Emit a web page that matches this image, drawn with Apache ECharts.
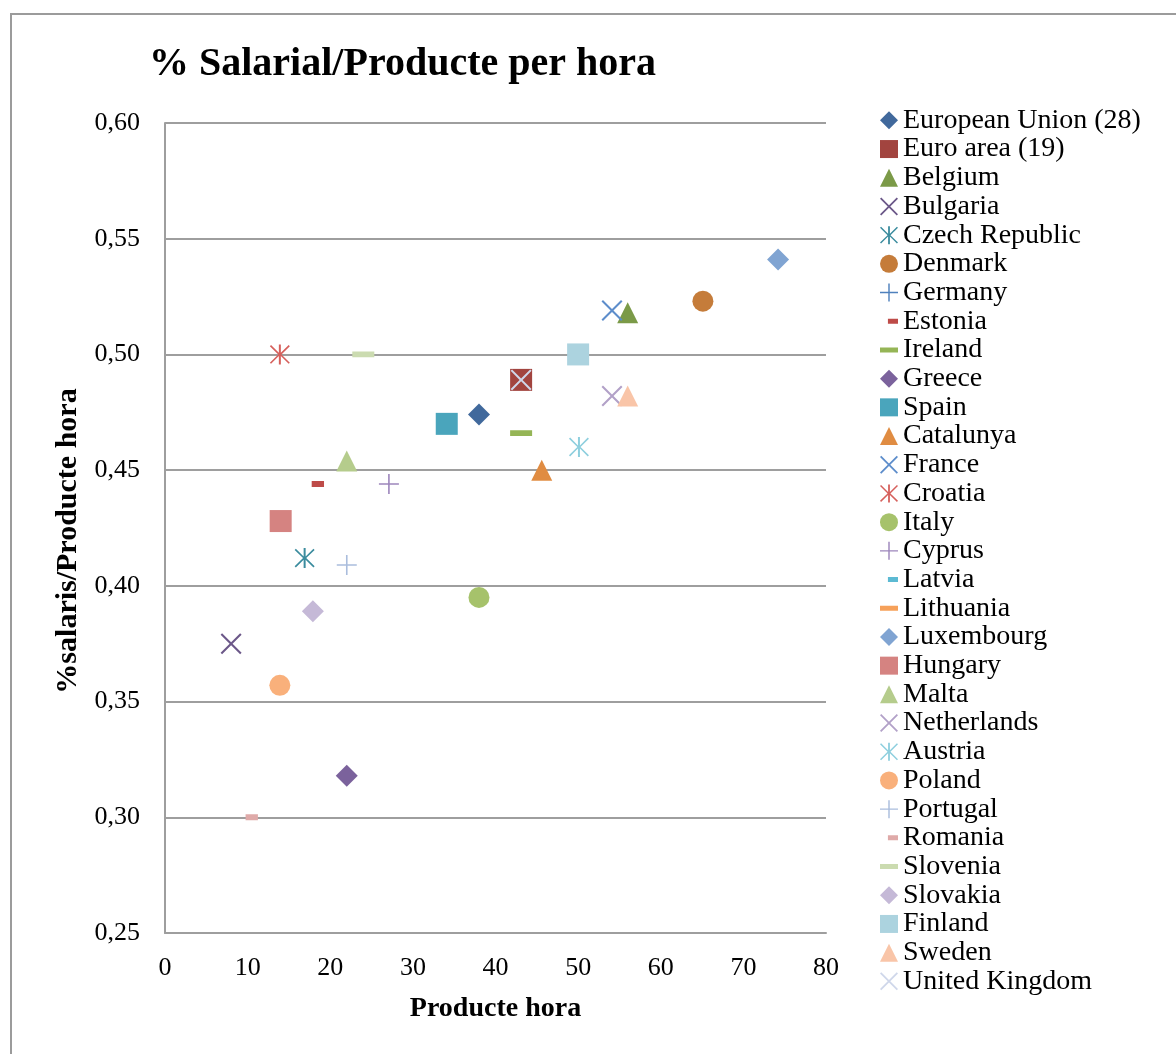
<!DOCTYPE html>
<html>
<head>
<meta charset="utf-8">
<title>% Salarial/Producte per hora</title>
<script src="https://cdn.jsdelivr.net/npm/echarts@6/dist/echarts.min.js"></script>
<style>
  html, body { margin: 0; padding: 0; background: #ffffff; }
  #chart { width: 1176px; height: 1054px; }
</style>
</head>
<body>
<div id="chart"></div>
<script>
// Countries, hourly productivity (x) and wage share per hour of product (y).
// Germany, Latvia and Lithuania have no plotted value.
const countries = [
  'European Union (28)', 'Euro area (19)', 'Belgium', 'Bulgaria', 'Czech Republic',
  'Denmark', 'Germany', 'Estonia', 'Ireland', 'Greece', 'Spain', 'Catalunya',
  'France', 'Croatia', 'Italy', 'Cyprus', 'Latvia', 'Lithuania', 'Luxembourg',
  'Hungary', 'Malta', 'Netherlands', 'Austria', 'Poland', 'Portugal', 'Romania',
  'Slovenia', 'Slovakia', 'Finland', 'Sweden', 'United Kingdom'
];
const productivity = [
  38.0, 43.1, 56.0, 8.0, 16.9,
  65.1, null, 18.5, 43.1, 22.0, 34.1, 45.6,
  54.1, 13.9, 38.0, 27.1, null, null, 74.2,
  14.0, 22.0, 54.1, 50.1, 13.9, 22.0, 10.5,
  24.0, 17.9, 50.0, 56.0, 43.1
];
const wageShare = [
  0.474, 0.489, 0.518, 0.375, 0.412,
  0.523, null, 0.444, 0.466, 0.318, 0.470, 0.450,
  0.519, 0.500, 0.395, 0.444, null, null, 0.541,
  0.428, 0.454, 0.482, 0.460, 0.357, 0.409, 0.300,
  0.500, 0.389, 0.500, 0.482, 0.489
];
const xTicks = { min: 0, max: 80, step: 10 };
const yTicks = { min: 0.25, max: 0.60, step: 0.05 };

// Marker shapes (filled outlines in a 100x100 box; tiny corner specks keep the box square)
const corners = 'M0,0L0.2,0L0,0.2Z M100,100L99.8,100L100,99.8Z ';
const SHAPES = {
  cross: 'path://M0,7L7,0L50,43L93,0L100,7L57,50L100,93L93,100L50,57L7,100L0,93L43,50Z',
  star: 'path://M0,9L6,3L45,42L45,0L55,0L55,42L94,3L100,9L58,50L100,91L94,97L55,58L55,100L45,100L45,58L6,97L0,91L42,50Z',
  plus: 'path://M46,0L54,0L54,46L100,46L100,54L54,54L54,100L46,100L46,54L0,54L0,46L46,46Z',
  shortDash: 'path://' + corners + 'M22,36L78,36L78,64L22,64Z',
  longDash: 'path://' + corners + 'M0,37L100,37L100,63L0,63Z',
  legendShortDash: 'path://' + corners + 'M44,36L100,36L100,64L44,64Z',
  legendLongDash: 'path://' + corners + 'M0,36L100,36L100,64L0,64Z'
};

const markerKinds = [
  'diamond', 'rect', 'triangle', 'cross', 'star', 'circle', 'plus', 'shortDash', 'longDash', 'diamond',
  'rect', 'triangle', 'cross', 'star', 'circle', 'plus', 'shortDash', 'longDash', 'diamond',
  'rect', 'triangle', 'cross', 'star', 'circle', 'plus', 'shortDash', 'longDash', 'diamond',
  'rect', 'triangle', 'cross'
];
const markerColors = [
  '#41699c', '#a2443f', '#7b9a48', '#6c5889', '#3b8c9e',
  '#c57c3a', '#4f81bd', '#be4b48', '#95b556', '#7b629c', '#4aa5bc', '#e08c42',
  '#5d8dcb', '#d6605c', '#a6c26b', '#9d86bc', '#5cbad3', '#f6a15a', '#80a4d2',
  '#d58381', '#b5cc8c', '#b2a1c8', '#8ecfde', '#f9b07b', '#aabddd', '#dfaaa9',
  '#cbdbb0', '#c5b9d7', '#acd3df', '#f9c5a8', '#cfd7ea'
];

function symbolFor(kind) {
  return ['rect', 'triangle', 'diamond', 'circle'].indexOf(kind) >= 0 ? kind : SHAPES[kind];
}
function legendIconFor(kind) {
  if (kind === 'shortDash') return SHAPES.legendShortDash;
  if (kind === 'longDash') return SHAPES.legendLongDash;
  return symbolFor(kind);
}
function sizeFor(kind) {
  if (kind === 'rect' || kind === 'diamond' || kind === 'shortDash' || kind === 'longDash') return 22;
  if (kind === 'star' || kind === 'plus') return 20;
  return 21;
}

const serif = "'Liberation Serif', 'DejaVu Serif', serif";

const series = countries.map(function (name, i) {
  const kind = markerKinds[i];
  const pts = (productivity[i] == null || wageShare[i] == null) ? [] : [[productivity[i], wageShare[i]]];
  return {
    name: name,
    type: 'scatter',
    data: pts,
    symbol: symbolFor(kind),
    symbolSize: sizeFor(kind),
    itemStyle: { color: markerColors[i], opacity: 1 },
    emphasis: { disabled: true },
    z: 2 + i
  };
});

const chart = echarts.init(document.getElementById('chart'), null, { renderer: 'canvas' });
chart.setOption({
  animation: false,
  backgroundColor: '#ffffff',
  title: {
    text: '% Salarial/Producte per hora',
    left: 144,
    top: 40,
    textStyle: { fontFamily: serif, fontWeight: 'bold', fontSize: 40, color: '#000000' }
  },
  graphic: [{
    type: 'rect',
    shape: { x: 11, y: 14, width: 1200, height: 1100 },
    style: { fill: 'none', stroke: '#9b9b9b', lineWidth: 2 },
    silent: true,
    z: -1
  }],
  legend: {
    orient: 'vertical',
    left: 880,
    top: 106,
    itemWidth: 18,
    itemHeight: 18,
    itemGap: 0,
    padding: 0,
    selectedMode: false,
    symbolKeepAspect: true,
    textStyle: { fontFamily: serif, fontSize: 28, color: '#000000', lineHeight: 28.7, padding: [0, 0, 0, 0] },
    data: countries.map(function (name, i) {
      return { name: name, icon: legendIconFor(markerKinds[i]) };
    })
  },
  grid: { left: 165, right: 350, top: 123, bottom: 121, containLabel: false },
  xAxis: {
    type: 'value',
    min: xTicks.min,
    max: xTicks.max,
    interval: xTicks.step,
    name: 'Producte hora',
    nameLocation: 'middle',
    nameGap: 62,
    nameTextStyle: { fontFamily: serif, fontWeight: 'bold', fontSize: 28, color: '#000000' },
    axisLine: { show: true, lineStyle: { color: '#9e9e9e', width: 2 } },
    axisTick: { show: false },
    splitLine: { show: false },
    axisLabel: { fontFamily: serif, fontSize: 26, color: '#000000', margin: 22 }
  },
  yAxis: {
    type: 'value',
    min: yTicks.min,
    max: yTicks.max,
    interval: yTicks.step,
    name: '%salaris/Producte hora',
    nameLocation: 'middle',
    nameRotate: 90,
    nameGap: 82,
    nameTextStyle: {
      fontFamily: serif, fontWeight: 'bold', fontSize: 30, color: '#000000',
      padding: [0, 26, 0, 0]
    },
    axisLine: { show: true, lineStyle: { color: '#9e9e9e', width: 2 } },
    axisTick: { show: false },
    splitLine: { show: true, lineStyle: { color: '#9e9e9e', width: 2 } },
    axisLabel: {
      fontFamily: serif, fontSize: 26, color: '#000000', margin: 25,
      formatter: function (v) { return v.toFixed(2).replace('.', ','); }
    }
  },
  series: series
});
</script>
</body>
</html>
